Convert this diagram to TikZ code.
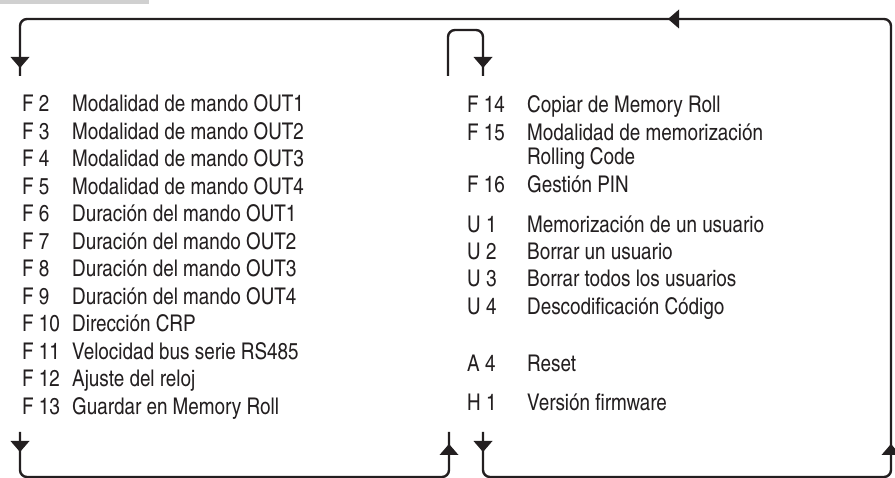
\documentclass[tikz,border=0pt]{standalone}
\usepackage{fontspec}
\setmainfont{texgyreheroscn-regular.otf}
\usepackage{tikz}
\tikzstyle{sheet} = [x = 1pt, y = -1pt]
\definecolor{lineColor}{RGB}{35,31,32}
\definecolor{tabColor}{RGB}{208,208,208}
\tikzstyle{flowLine} = [color=lineColor, line width=2.4pt, rounded corners = 7pt]
\tikzstyle{flowTip} = [fill=lineColor]
\tikzstyle{menuText} = [anchor=base west, inner sep=0pt, text=lineColor, font=\fontsize{23}{27}\selectfont]
\newcommand{\tipDown}[2]{\fill [flowTip] (#1 - 9.5, #2 - 11) -- + (19,0) -- (#1, #2) -- cycle;}
\newcommand{\tipUp}[2]{\fill [flowTip] (#1 - 9.5, #2 + 11) -- + (19,0) -- (#1, #2) -- cycle;}
\newcommand{\tipLeft}[2]{\fill [flowTip] (#1 + 11, #2 - 9.5) -- + (0,19) -- (#1, #2) -- cycle;}

\begin{document}
\begin{tikzpicture}[sheet]
          \useasboundingbox (0,0) rectangle (895,478);
          \fill [tabColor] (0,0) rectangle (149,4);

          \coordinate (topLine) at (891,19);
          \coordinate (baseLine) at (891,477);
          \coordinate (leftIn) at (20,76);
          \coordinate (leftOut) at (20,432);
          \coordinate (midUp) at (449,432);
          \coordinate (midDown) at (483,432);
          \coordinate (loopIn) at (448,76);
          \coordinate (loopOut) at (483,76);

          \draw [flowLine] (midDown) |- (baseLine) -- (topLine) -| (leftIn);
          \draw [flowLine] (leftOut) |- (midUp |- baseLine) -- (midUp);
          \draw [flowLine] (loopIn) -- ++(0,-46) -| (loopOut);

          \tipDown{20}{68}
          \tipDown{483}{68}
          \tipLeft{668}{19}
          \tipDown{20}{452}
          \tipUp{449}{444}
          \tipDown{483}{452}
          \tipUp{891}{444}

          \foreach \code/\item [count=\i from 0] in {F 2/Modalidad de mando OUT1, F 3/Modalidad de mando OUT2,
              F 4/Modalidad de mando OUT3, F 5/Modalidad de mando OUT4, F 6/Duración del mando OUT1,
              F 7/Duración del mando OUT2, F 8/Duración del mando OUT3, F 9/Duración del mando OUT4,
              F 10/Dirección CRP, F 11/Velocidad bus serie RS485, F 12/Ajuste del reloj,
              F 13/Guardar en Memory Roll} {
            \node [menuText] (leftCode\i) at (22, 112 + 27.5 * \i) {\code};
            \node [menuText] (leftItem\i) at (72, 112 + 27.5 * \i) {\item};
          }

          \foreach \code/\item/\row [count=\i] in {F 14/Copiar de Memory Roll/113,
              F 15/Modalidad de memorización/141, F 16/Gestión PIN/193,
              U 1/Memorización de un usuario/233, U 2/Borrar un usuario/260,
              U 3/Borrar todos los usuarios/287, U 4/Descodificación Código/315,
              A 4/Reset/372, H 1/Versión firmware/410} {
            \node [menuText] (rightCode\i) at (467, \row) {\code};
            \node [menuText] (rightItem\i) at (527, \row) {\item};
          }
          \node [menuText] (rollingLine) at (527, 165) {Rolling Code};
        \end{tikzpicture}
\end{document}
